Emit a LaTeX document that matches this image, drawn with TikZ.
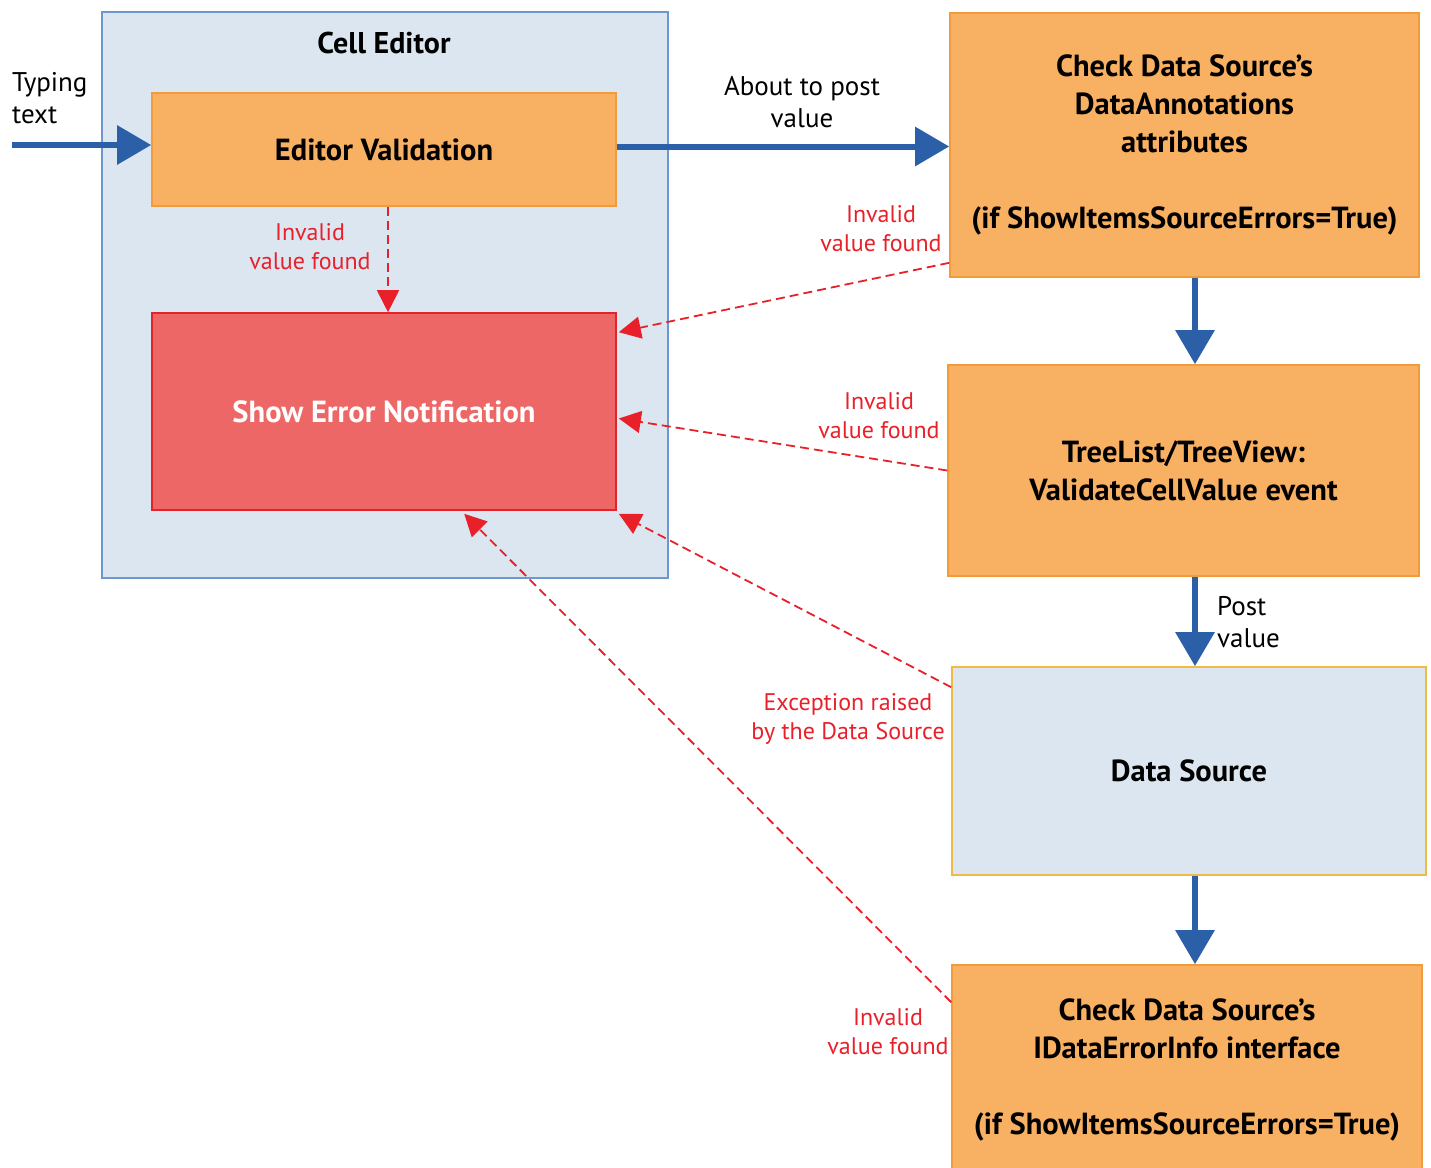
\documentclass[tikz,border=0pt]{standalone}
\usepackage{fontspec}
\setmainfont{PT Sans}
\usetikzlibrary{arrows.meta,calc}

\definecolor{panelblue}{HTML}{DCE6F1}
\definecolor{paneledge}{HTML}{6F97CE}
\definecolor{orangefill}{HTML}{F8B062}
\definecolor{orangeedge}{HTML}{F29B3A}
\definecolor{errfill}{HTML}{EE6767}
\definecolor{erredge}{HTML}{E4222B}
\definecolor{dsedge}{HTML}{F1BA45}
\definecolor{flowblue}{HTML}{2B5FA8}
\definecolor{alertred}{HTML}{E8202A}

\tikzset{
  stagebox/.style={draw=orangeedge, fill=orangefill, line width=1.6pt,
    inner sep=0pt, align=center, font=\fontsize{30.5}{38}\selectfont\bfseries},
  flow/.style={draw=flowblue, line width=6pt,
    -{Triangle[length=34pt,width=38pt]}},
  errflow/.style={draw=alertred, line width=1.8pt, dash pattern=on 9pt off 5pt,
    -{Triangle[length=22pt,width=22pt]}},
  redlabel/.style={text=alertred, align=center, inner sep=0pt,
    font=\fontsize{24}{29}\selectfont},
  blacklabel/.style={align=center, inner sep=0pt,
    font=\fontsize{27}{32}\selectfont},
}

\begin{document}
\begin{tikzpicture}[x=1pt,y=-1pt]
\useasboundingbox (0,0) rectangle (1431,1167);

% Cell editor container
\node[draw=paneledge, fill=panelblue, line width=1.6pt, minimum width=566pt,
  minimum height=566pt, inner sep=0pt] (celled) at (385,295) {};
\node[font=\fontsize{30}{34}\selectfont\bfseries] (celltitle) at (384,43) {Cell Editor};

\node[stagebox, minimum width=464pt, minimum height=113pt] (edval) at (384,149.5)
  {Editor Validation};
\node[stagebox, draw=erredge, fill=errfill, text=white, minimum width=464pt,
  minimum height=197pt] (showerr) at (384,411.5) {Show Error Notification};

% Right-hand pipeline
\node[stagebox, minimum width=469pt, minimum height=264pt] (chkda) at (1184.5,145)
  {Check Data Source’s\\DataAnnotations\\attributes\\[38pt](if ShowItemsSourceErrors=True)};
\node[stagebox, minimum width=471pt, minimum height=211pt] (tree) at (1183.5,470.5)
  {TreeList/TreeView:\\ValidateCellValue event};
\node[stagebox, draw=dsedge, fill=panelblue, minimum width=474pt,
  minimum height=208pt] (ds) at (1189,771) {Data Source};
\node[stagebox, minimum width=470pt, minimum height=210pt] (chkide) at (1187,1070)
  {Check Data Source’s\\IDataErrorInfo interface\\[38pt](if ShowItemsSourceErrors=True)};

% Blue flow
\coordinate (typein) at (12,145);
\coordinate (colx) at (1195,0);
\draw[flow] (typein) -- (typein -| edval.west);
\draw[flow] ($(edval.east)+(0,-3)$) -- ($(edval.east -| chkda.west)+(0,-3)$);
\draw[flow] (chkda.south -| colx) -- (tree.north -| colx);
\draw[flow] (tree.south -| colx) -- (ds.north -| colx);
\draw[flow] (ds.south -| colx) -- (chkide.north -| colx);

% Error paths
\draw[errflow] ($(edval.south)+(4,0)$) -- ($(showerr.north)+(4,0)$);
\draw[errflow] ($(chkda.south west)+(0,-15)$) -- ($(showerr.north east)+(2,20)$);
\draw[errflow] ($(tree.west)+(0,0)$) -- ($(showerr.east)+(2,7)$);
\draw[errflow] ($(ds.north west)+(0,21)$) -- ($(showerr.south east)+(2,3)$);
\draw[errflow] ($(chkide.north west)+(0,38)$) -- ($(showerr.south west)+(313,3)$);

% Labels
\node[blacklabel, align=left, anchor=west] (typelbl) at (12,98) {Typing\\text};
\node[blacklabel] (postlbl1) at (802,102) {About to post\\value};
\node[blacklabel, align=left, anchor=west] (postlbl2) at (1217,622) {Post\\value};

\node[redlabel] (inv1) at (310,247) {Invalid\\value found};
\node[redlabel] (inv2) at (881,229) {Invalid\\value found};
\node[redlabel] (inv3) at (879,416) {Invalid\\value found};
\node[redlabel] (exc) at (848,719) {Exception raised\\by the Data Source};
\node[redlabel] (inv4) at (888,1032) {Invalid\\value found};
\end{tikzpicture}
\end{document}
